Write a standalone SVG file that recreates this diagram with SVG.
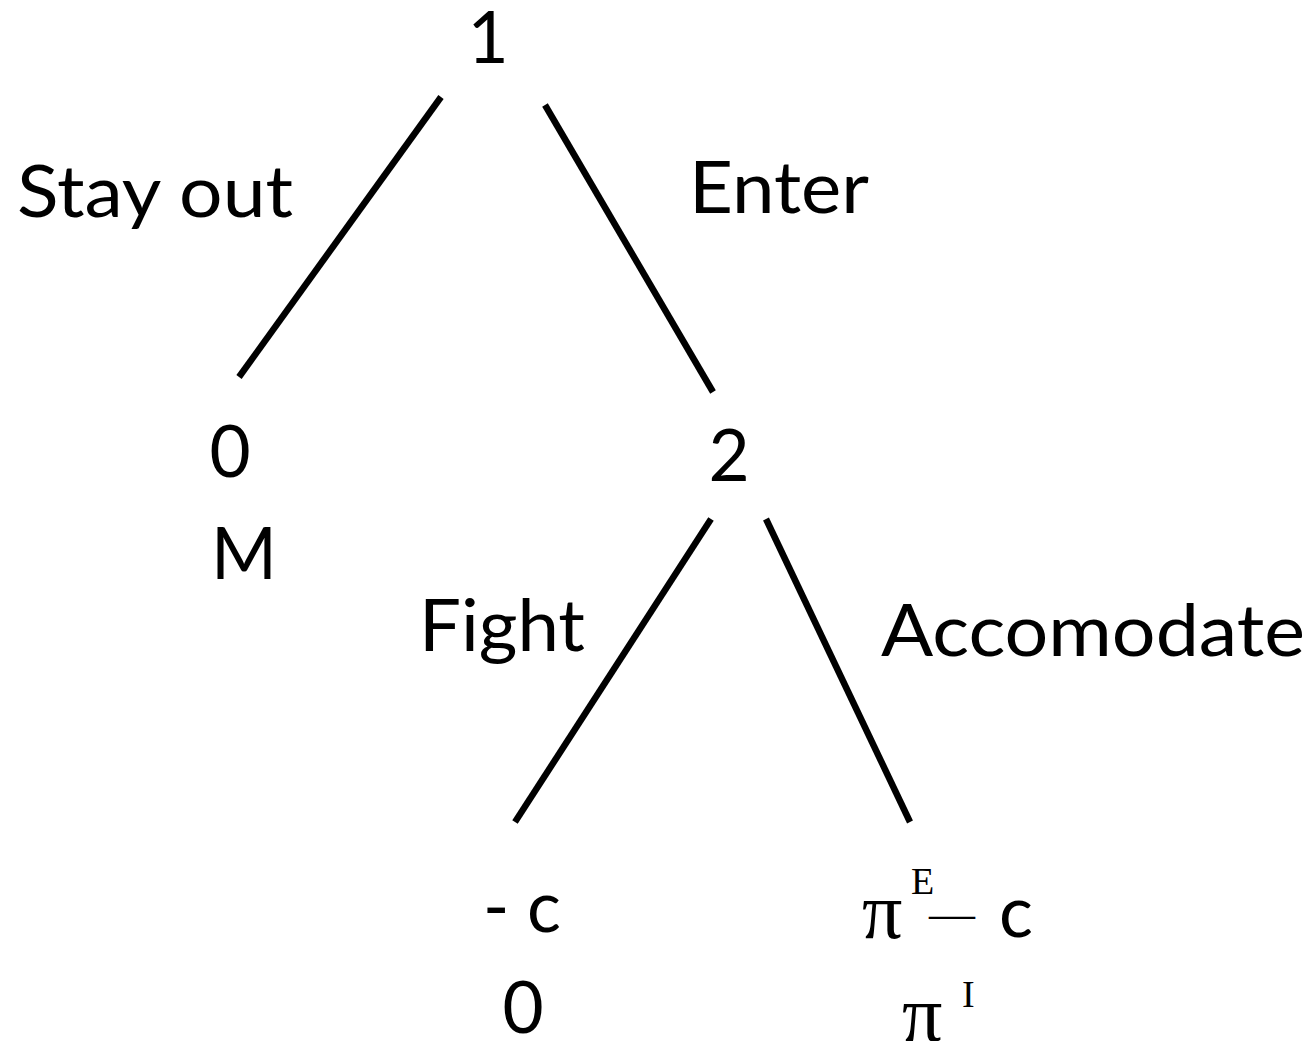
<svg xmlns="http://www.w3.org/2000/svg" width="1313" height="1041" viewBox="0 0 1313 1041">
  <style>
    .lbl { font-family: Lato, "Open Sans", "Liberation Sans", sans-serif; font-size: 71px; fill: #000; }
    .mid { text-anchor: middle; }
    .serif { font-family: "Liberation Serif", "DejaVu Serif", serif; fill: #000; }
    .edge { stroke: #000; stroke-width: 6.5; fill: none; stroke-linecap: butt; }
  </style>
  <rect width="1313" height="1041" fill="#fff"/>

  <!-- branches of the game tree -->
  <g id="connectors">
    <line class="edge" x1="441" y1="97" x2="239" y2="377"/>
    <line class="edge" x1="545" y1="105" x2="713" y2="392"/>
    <line class="edge" x1="711" y1="519" x2="515" y2="822"/>
    <line class="edge" x1="766" y1="519" x2="910" y2="822"/>
    <text class="lbl" x="17" y="217" textLength="276" lengthAdjust="spacingAndGlyphs">Stay out</text>
    <text class="lbl" x="689" y="213" textLength="180" lengthAdjust="spacingAndGlyphs">Enter</text>
    <text class="lbl" x="419" y="651" textLength="166" lengthAdjust="spacingAndGlyphs">Fight</text>
    <text class="lbl" x="881" y="656" textLength="424" lengthAdjust="spacingAndGlyphs">Accomodate</text>
  </g>

  <!-- decision nodes -->
  <g id="node-1">
    <text class="lbl mid" x="488" y="63">1</text>
  </g>
  <g id="node-2">
    <text class="lbl mid" x="729" y="481">2</text>
  </g>

  <!-- payoffs -->
  <g id="payoff-stay-out">
    <text class="lbl mid" x="230" y="477">0</text>
    <text class="lbl mid" x="244" y="579">M</text>
  </g>
  <g id="payoff-fight">
    <text class="lbl" y="932"><tspan x="483">-</tspan><tspan x="527">c</tspan></text>
    <text class="lbl mid" x="523" y="1033">0</text>
  </g>
  <g id="payoff-accommodate">
    <text class="serif" x="862" y="938" font-size="80">π</text>
    <text class="serif" x="911" y="894" font-size="38">E</text>
    <text class="serif" x="929" y="929" font-size="46">—</text>
    <text class="lbl" x="999" y="937">c</text>
    <text class="serif" x="902" y="1041" font-size="80">π</text>
    <text class="serif" x="962" y="1007" font-size="38">I</text>
  </g>
</svg>
